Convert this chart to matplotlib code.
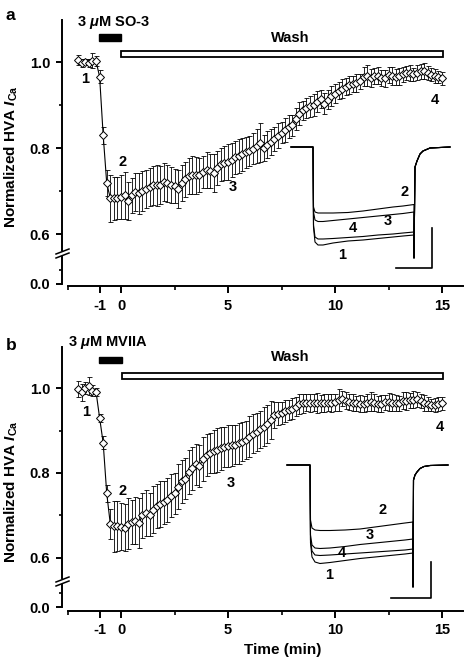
import matplotlib
matplotlib.use('Agg')
import matplotlib.pyplot as plt
import numpy as np
from matplotlib.patches import Rectangle
from matplotlib.lines import Line2D

# ---------------- data ----------------
# one sample every 10 s, starting 2 min before the drug is washed out
sample_min = 1 / 6
start_min = -2.0

# panel a: SO-3
ya = [1.005, 0.998, 1.000, 0.998, 1.003, 1.002,
      0.966, 0.830, 0.718, 0.683, 0.683, 0.684, 0.686, 0.690, 0.677,
      0.690, 0.698, 0.695, 0.700, 0.705, 0.709, 0.713, 0.713, 0.714, 0.720,
      0.718, 0.714, 0.712, 0.705, 0.718, 0.727, 0.734, 0.737, 0.737, 0.737,
      0.744, 0.749, 0.746, 0.741, 0.753, 0.762, 0.765, 0.768, 0.772, 0.778,
      0.782, 0.785, 0.790, 0.794, 0.798, 0.804, 0.812, 0.800, 0.808, 0.814,
      0.820, 0.829, 0.836, 0.842, 0.850, 0.853, 0.868, 0.880, 0.888, 0.893,
      0.897, 0.900, 0.908, 0.914, 0.903, 0.912, 0.921, 0.926, 0.933, 0.938,
      0.943, 0.947, 0.949, 0.951, 0.955, 0.966, 0.968, 0.963, 0.967, 0.968,
      0.963, 0.962, 0.970, 0.968, 0.965, 0.967, 0.971, 0.974, 0.974, 0.971,
      0.975, 0.978, 0.979, 0.975, 0.970, 0.968, 0.966, 0.962]
ea = [0.012, 0.010, 0.008, 0.010, 0.018, 0.012,
      0.015, 0.020, 0.030, 0.055, 0.050, 0.048, 0.052, 0.055, 0.045,
      0.040, 0.045, 0.048, 0.046, 0.044, 0.045, 0.046, 0.048, 0.045, 0.044,
      0.043, 0.042, 0.040, 0.045, 0.042, 0.040, 0.042, 0.044, 0.043, 0.040,
      0.038, 0.042, 0.040, 0.044, 0.040, 0.038, 0.040, 0.042, 0.040, 0.038,
      0.040, 0.038, 0.036, 0.035, 0.036, 0.040, 0.045, 0.030, 0.032, 0.030,
      0.028, 0.030, 0.025, 0.028, 0.026, 0.024, 0.025, 0.026, 0.022, 0.024,
      0.025, 0.026, 0.024, 0.022, 0.025, 0.022, 0.024, 0.022, 0.020, 0.022,
      0.020, 0.021, 0.019, 0.020, 0.018, 0.022, 0.024, 0.020, 0.018, 0.020,
      0.018, 0.020, 0.019, 0.021, 0.018, 0.020, 0.018, 0.017, 0.018, 0.016,
      0.018, 0.017, 0.019, 0.016, 0.015, 0.016, 0.014, 0.015]

# panel b: MVIIA
yb = [0.998, 0.990, 1.000, 1.005, 0.994, 0.991,
      0.930, 0.871, 0.752, 0.680, 0.675, 0.675, 0.674, 0.671, 0.680,
      0.685, 0.688, 0.682, 0.700, 0.706, 0.702, 0.714, 0.722, 0.727, 0.731,
      0.736, 0.747, 0.752, 0.768, 0.780, 0.787, 0.803, 0.811, 0.820, 0.817,
      0.833, 0.842, 0.847, 0.851, 0.855, 0.858, 0.861, 0.863, 0.865, 0.866,
      0.870, 0.874, 0.877, 0.885, 0.892, 0.897, 0.903, 0.909, 0.916, 0.925,
      0.936, 0.940, 0.942, 0.946, 0.948, 0.951, 0.956, 0.962, 0.964, 0.965,
      0.965, 0.965, 0.965, 0.964, 0.965, 0.965, 0.964, 0.967, 0.972, 0.975,
      0.970, 0.968, 0.965, 0.964, 0.963, 0.963, 0.965, 0.968, 0.965, 0.962,
      0.963, 0.966, 0.967, 0.965, 0.964, 0.964, 0.970, 0.970, 0.971, 0.972,
      0.973, 0.970, 0.965, 0.962, 0.960, 0.960, 0.962, 0.964]
eb = [0.018, 0.020, 0.015, 0.022, 0.012, 0.010,
      0.010, 0.015, 0.020, 0.035, 0.060, 0.058, 0.056, 0.055, 0.060,
      0.052, 0.055, 0.058, 0.052, 0.055, 0.050, 0.055, 0.052, 0.054, 0.050,
      0.052, 0.050, 0.048, 0.052, 0.050, 0.048, 0.052, 0.050, 0.048, 0.050,
      0.052, 0.050, 0.048, 0.050, 0.052, 0.050, 0.048, 0.050, 0.048, 0.046,
      0.048, 0.046, 0.045, 0.048, 0.046, 0.045, 0.044, 0.046, 0.045, 0.044,
      0.030, 0.028, 0.026, 0.025, 0.024, 0.025, 0.022, 0.024, 0.022, 0.020,
      0.022, 0.020, 0.024, 0.020, 0.022, 0.020, 0.021, 0.020, 0.025, 0.018,
      0.020, 0.019, 0.020, 0.018, 0.020, 0.019, 0.020, 0.022, 0.020, 0.019,
      0.020, 0.018, 0.022, 0.020, 0.019, 0.018, 0.020, 0.021, 0.018, 0.020,
      0.018, 0.017, 0.019, 0.016, 0.015, 0.016, 0.017, 0.015]

# time points (min) of the numbered current traces and where their labels sit
mark_names = ['1', '2', '3', '4']
marks_a = [(-1.68, 0.960), (0.09, 0.767), (5.23, 0.709), (14.67, 0.912)]
marks_b = [(-1.64, 0.944), (0.05, 0.758), (5.14, 0.776), (14.90, 0.908)]

# inset current traces (ms, nA), baseline -> test pulse -> tail
pre_a = [-22, 0]
pulse_t_a = [0, 0.5, 2, 5, 10, 20, 35, 50, 65, 80, 90, 101]
trace1_a = [0, -0.80, -0.95, -0.98, -0.98, -0.96, -0.94, -0.93, -0.915, -0.90, -0.89, -0.88]
trace2_a = [0, -0.60, -0.65, -0.66, -0.66, -0.66, -0.655, -0.64, -0.62, -0.60, -0.59, -0.575]
trace3_a = [0, -0.65, -0.73, -0.745, -0.745, -0.735, -0.72, -0.705, -0.69, -0.675, -0.665, -0.65]
trace4_a = [0, -0.78, -0.90, -0.92, -0.92, -0.915, -0.905, -0.895, -0.88, -0.87, -0.86, -0.85]
tail_t_a = [101, 102, 104, 107, 110, 117, 137]
tail_i_a = [-1.11, -0.20, -0.14, -0.07, -0.04, -0.01, 0.0]
trace_labels_a = [(29, -1.08), (92, -0.45), (75, -0.74), (40, -0.81)]

pre_b = [-23, 0]
pulse_t_b = [0, 0.5, 2, 5, 10, 20, 35, 50, 65, 80, 95, 103]
trace1_b = [0, -0.78, -0.92, -0.97, -0.985, -0.975, -0.955, -0.935, -0.92, -0.905, -0.89, -0.88]
trace2_b = [0, -0.55, -0.63, -0.65, -0.655, -0.655, -0.65, -0.64, -0.62, -0.60, -0.58, -0.57]
trace3_b = [0, -0.70, -0.80, -0.83, -0.835, -0.83, -0.815, -0.795, -0.78, -0.765, -0.75, -0.74]
trace4_b = [0, -0.75, -0.86, -0.90, -0.905, -0.90, -0.89, -0.88, -0.87, -0.86, -0.85, -0.84]
tail_t_b = [103, 103.5, 105, 107, 110, 114, 120, 138]
tail_i_b = [-1.22, -0.15, -0.10, -0.07, -0.035, -0.015, -0.005, 0.0]
trace_labels_b = [(19, -1.10), (73, -0.45), (60, -0.70), (32, -0.88)]

# ---------------- style ----------------
plt.rcParams['font.family'] = ['Liberation Sans', 'DejaVu Sans']
plt.rcParams['font.weight'] = 'bold'
plt.rcParams['font.size'] = 10.5
plt.rcParams['axes.unicode_minus'] = False
plt.rcParams['mathtext.fontset'] = 'custom'
plt.rcParams['mathtext.rm'] = 'Liberation Sans:bold'
plt.rcParams['mathtext.it'] = 'Liberation Sans:italic:bold'
plt.rcParams['mathtext.bf'] = 'Liberation Sans:bold'
plt.rcParams['axes.linewidth'] = 1.4

W, H = 466, 660
XLIM = (-2.757, 16.12)


def box(left, top, right, bottom):
    """pixel box (from the top left corner) -> figure fraction rect"""
    return [left / W, 1 - bottom / H, (right - left) / W, (bottom - top) / H]


def make_axes(fig, up_px, low_px, ylim_up, ylim_low):
    """
    makes the two parts of a broken y axis, returns (upper, lower)
    """
    ax = fig.add_axes(box(*up_px))
    axl = fig.add_axes(box(*low_px))
    for a in (ax, axl):
        a.set_xlim(XLIM)
        a.spines['top'].set_visible(False)
        a.spines['right'].set_visible(False)
        a.patch.set_alpha(0)
        a.tick_params(axis='y', which='major', length=4, width=1.4, pad=4.5, labelsize=10.5)
        a.tick_params(axis='y', which='minor', length=2.5, width=1.2)

    # upper part
    ax.spines['bottom'].set_visible(False)
    ax.tick_params(axis='x', which='both', bottom=False, labelbottom=False)
    ax.set_ylim(ylim_up)
    ax.set_yticks([0.6, 0.8, 1.0])
    ax.set_yticks([0.7, 0.9], minor=True)
    ax.yaxis.set_major_formatter('{x:.1f}')

    # lower part holds the time axis
    axl.set_ylim(ylim_low)
    axl.set_yticks([0.0])
    axl.set_yticks([0.033], minor=True)
    axl.yaxis.set_major_formatter('{x:.1f}')
    axl.spines['left'].set_bounds(0.0, ylim_low[1])
    axl.spines['bottom'].set_bounds(-2.5, 16.0)
    axl.set_xticks([-1, 0, 5, 10, 15])
    axl.set_xticks([-2.5, 2.5, 7.5, 12.5], minor=True)
    axl.tick_params(axis='x', which='major', length=5, width=1.4, pad=4, labelsize=10.5)
    axl.tick_params(axis='x', which='minor', length=3, width=1.2)
    return ax, axl


def break_marks(fig, y_px):
    """two small slashes across the y axis"""
    for dy in (-2, 2):
        y = y_px + dy
        fig.add_artist(Line2D([56 / W, 69 / W], [1 - (y + 2.5) / H, 1 - (y - 2.5) / H],
                              color='black', lw=1.1))


def plot_timecourse(ax, values, errors):
    t = start_min + np.arange(len(values)) * sample_min
    ax.errorbar(t, values, yerr=errors, fmt='-', color='black', lw=0.8,
                elinewidth=0.6, capsize=1.8, capthick=0.6, zorder=2, clip_on=False)
    ax.plot(t, values, 'D', ms=3.6, mfc='white', mec='black', mew=0.7, zorder=3, clip_on=False)


def plot_inset(fig, px, xlim, ylim, pre_t, pulse_t, traces, tail_t, tail_i, labels, bar):
    ins = fig.add_axes(box(*px))
    ins.axis('off')
    ins.set_xlim(xlim)
    ins.set_ylim(ylim)
    for trace in traces:
        t = pre_t + pulse_t + tail_t
        i = [0, 0] + trace + tail_i
        ins.plot(t, i, color='black', lw=0.8)
    for name, (x, y) in zip(mark_names, labels):
        ins.text(x, y, name, ha='center', va='center', fontsize=10.5)
    # scale bar
    x0, x1, y0, y1 = bar
    ins.plot([x0, x1, x1], [y0, y0, y1], color='black', lw=1.2)


fig = plt.figure(figsize=(W / 100, H / 100), dpi=100)

# ---------------- panel a ----------------
ax_a, axl_a = make_axes(fig, (62, 20, 466, 250), (62, 257, 466, 286),
                        (0.5628, 1.0977), (-0.0047, 0.0628))
break_marks(fig, 253.5)
plot_timecourse(ax_a, ya, ea)
for name, (x, y) in zip(mark_names, marks_a):
    ax_a.text(x, y, name, ha='center', va='center')
ax_a.text(-2.06, 1.093, r'3 $\mu$M SO-3', ha='left', va='center', clip_on=False)
ax_a.add_patch(Rectangle((-1.05, 1.049), 1.05, 0.016, color='black', clip_on=False))
ax_a.add_patch(Rectangle((0.0, 1.0128), 15.05, 0.0128, facecolor='white',
                         edgecolor='black', lw=1.3, clip_on=False))
ax_a.text(7.9, 1.056, 'Wash', ha='center', va='center')
plot_inset(fig, (280, 135, 460, 275), (-33, 147), (-1.28, 0.12),
           pre_a, pulse_t_a, [trace1_a, trace4_a, trace3_a, trace2_a],
           tail_t_a, tail_i_a, trace_labels_a, (83, 119, -1.21, -0.81))
fig.text(6 / W, 1 - 16 / H, 'a', fontsize=12.5, ha='left', va='center')
fig.text(11 / W, 1 - 157 / H, r'Normalized HVA $I_{\mathrm{Ca}}$', rotation=90,
         ha='center', va='center', fontsize=11)

# ---------------- panel b ----------------
ax_b, axl_b = make_axes(fig, (62, 347, 466, 578), (62, 585, 466, 611),
                        (0.5529, 1.0965), (-0.0094, 0.0518))
break_marks(fig, 581.5)
plot_timecourse(ax_b, yb, eb)
for name, (x, y) in zip(mark_names, marks_b):
    ax_b.text(x, y, name, ha='center', va='center')
ax_b.text(-2.48, 1.106, r'3 $\mu$M MVIIA', ha='left', va='center', clip_on=False)
ax_b.add_patch(Rectangle((-1.03, 1.059), 1.08, 0.014, color='black', clip_on=False))
ax_b.add_patch(Rectangle((0.05, 1.021), 15.0, 0.014, facecolor='white',
                         edgecolor='black', lw=1.3, clip_on=False))
ax_b.text(7.9, 1.073, 'Wash', ha='center', va='center')
plot_inset(fig, (280, 455, 460, 600), (-30, 150), (-1.35, 0.10),
           pre_b, pulse_t_b, [trace1_b, trace4_b, trace3_b, trace2_b],
           tail_t_b, tail_i_b, trace_labels_b, (81, 121, -1.33, -0.97))
fig.text(6 / W, 1 - 345 / H, 'b', fontsize=12.5, ha='left', va='center')
fig.text(11 / W, 1 - 492 / H, r'Normalized HVA $I_{\mathrm{Ca}}$', rotation=90,
         ha='center', va='center', fontsize=11)
fig.text(283 / W, 1 - 650 / H, 'Time (min)', ha='center', va='center', fontsize=11)

plt.savefig('out.png', dpi=100)
